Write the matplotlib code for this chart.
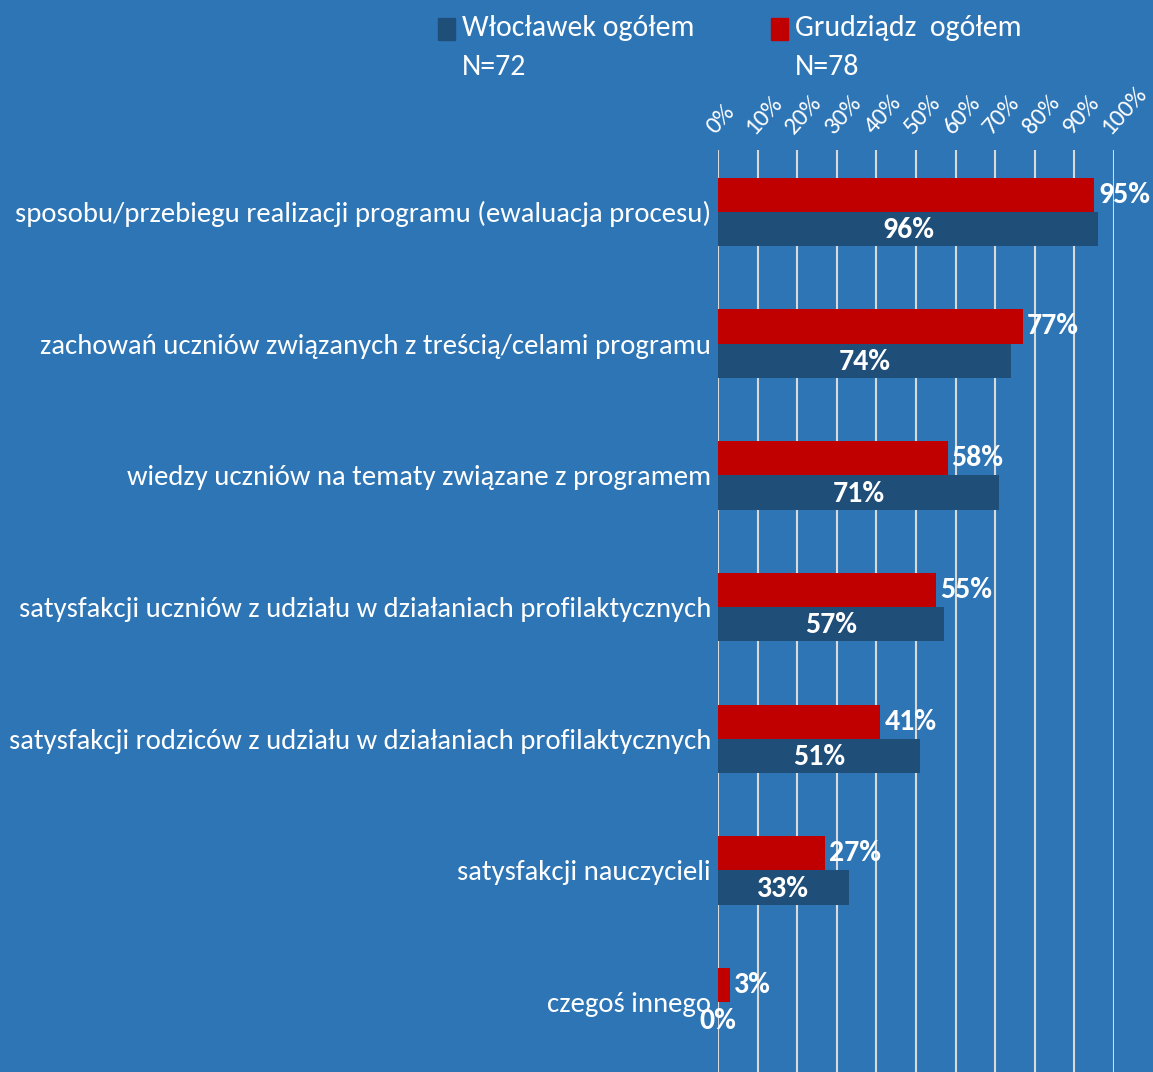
import numpy as np
import matplotlib
matplotlib.use("Agg")
import matplotlib.pyplot as plt
from matplotlib.patches import Rectangle

# data
categories = ["sposobu/przebiegu realizacji programu (ewaluacja procesu)",
              "zachowań uczniów związanych z treścią/celami programu",
              "wiedzy uczniów na tematy związane z programem",
              "satysfakcji uczniów z udziału w działaniach profilaktycznych",
              "satysfakcji rodziców z udziału w działaniach profilaktycznych",
              "satysfakcji nauczycieli",
              "czegoś innego"]
wloclawek = [96, 74, 71, 57, 51, 33, 0]
grudziadz = [95, 77, 58, 55, 41, 27, 3]
series_names = [("Włocławek ogółem", "N=72"), ("Grudziądz  ogółem", "N=78")]
xticks = list(range(0, 101, 10))

# colours
BG = "#2E75B6"
RED = "#C00000"
NAVY = "#1F4E79"

plt.rcParams['font.family'] = ['Carlito', 'Liberation Sans Narrow', 'DejaVu Sans']

W, H = 1153, 1072
fig = plt.figure(figsize=(W/100, H/100), dpi=100, facecolor=BG)
ax = fig.add_axes([718/W, 0, (1114-718)/W, 1-150/H])
ax.set_facecolor(BG)

y = np.arange(len(categories))
h = 0.26
ax.barh(y - h/2, grudziadz, height=h, color=RED, zorder=3)
ax.barh(y + h/2, wloclawek, height=h, color=NAVY, zorder=3)

# value labels: red outside end, navy centred in bar
for i in range(len(categories)):
    ax.text(grudziadz[i] + 1.0, y[i] - h/2, f"{grudziadz[i]}%", color="white",
            fontsize=21.5, fontweight="bold", ha="left", va="center", zorder=4)
    ax.text(wloclawek[i] / 2, y[i] + h/2 + 0.01, f"{wloclawek[i]}%", color="white",
            fontsize=21.5, fontweight="bold", ha="center", va="center", zorder=4)

ax.set_xlim(0, 100)
ax.set_ylim(len(categories) - 0.47, -0.47)
ax.xaxis.tick_top()
ax.set_xticks(xticks)
ax.set_xticklabels([f"{t}%" for t in xticks], rotation=48, ha="left", va="bottom",
                   rotation_mode="anchor", color="white", fontsize=18)
ax.tick_params(axis="x", length=0, pad=9)
ax.set_yticks(y)
ax.set_yticklabels(categories, color="white", fontsize=20.7)
ax.tick_params(axis="y", length=0, pad=5)
ax.grid(axis="x", color="#D9D9D9", linewidth=1.5, zorder=0)
for s in ax.spines.values():
    s.set_visible(False)

# legend drawn by hand
leg_x = [438, 771]
leg_colors = [NAVY, RED]
for lx, c, (line1, line2) in zip(leg_x, leg_colors, series_names):
    fig.patches.append(Rectangle((lx/W, 1-40/H), 17/W, 22/H,
                                 transform=fig.transFigure, color=c))
    fig.text((lx+24)/W, 1-36/H, line1, color="white", fontsize=21.5,
             ha="left", va="baseline")
    fig.text((lx+24)/W, 1-75/H, line2, color="white", fontsize=21.5,
             ha="left", va="baseline")

fig.savefig("out.png", dpi=100, facecolor=BG)
